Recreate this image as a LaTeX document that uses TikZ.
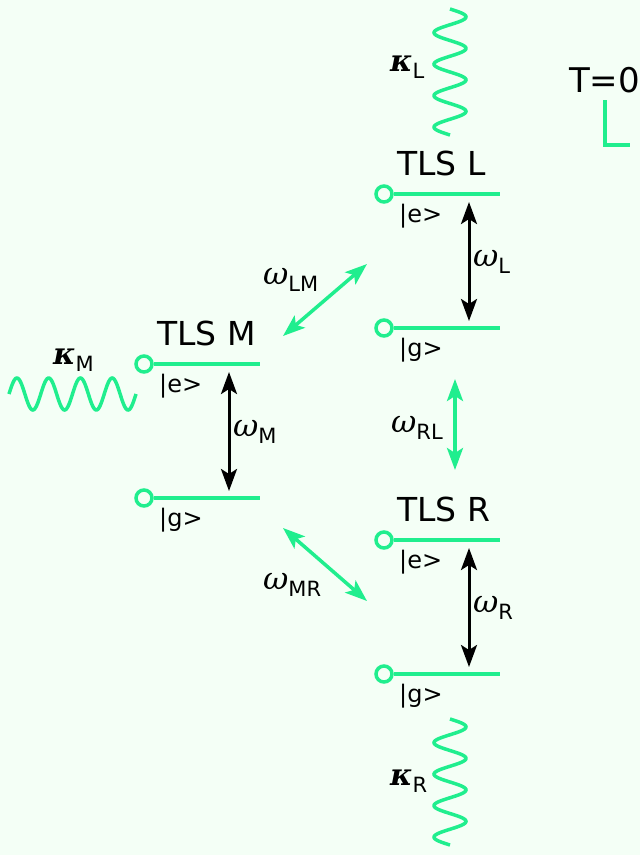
\documentclass[tikz,border=0pt]{standalone}
\usepackage{fontspec}
\setmainfont{DejaVu Sans}
\newfontfamily\grk{DejaVu Serif}
\usetikzlibrary{arrows.meta,positioning}
\definecolor{mint}{HTML}{F4FFF6}
\definecolor{spring}{HTML}{20EE8E}
\newcommand{\symlab}[3]{{\fontsize{#1}{#1}\selectfont\grk #2}\raisebox{-7pt}{\fontsize{21}{21}\selectfont #3}}
\tikzset{
  level/.style={draw=spring,line width=4pt},
  dot/.style={circle,draw=spring,line width=3.5pt,minimum size=16pt,inner sep=0pt,fill=mint},
  tls/.style={font=\fontsize{33}{33}\selectfont,inner sep=0pt,anchor=base west},
  ket/.style={font=\fontsize{24}{24}\selectfont,inner sep=0pt,anchor=base west},
  lbl/.style={inner sep=0pt,anchor=base west},
  tr/.style={{Stealth[length=22pt,width=16pt,inset=5pt]}-{Stealth[length=22pt,width=16pt,inset=5pt]},line width=3pt},
  cpl/.style={tr,draw=spring,line width=3.5pt},
  wave/.style={draw=spring,line width=3.5pt},
}
\begin{document}
\begin{tikzpicture}[x=1pt,y=-1pt]
\fill[mint] (0,0) rectangle (640,855);
\useasboundingbox (0,0) rectangle (640,855);
% the three two-level systems
\foreach \n/\x/\y in {L/384/194,M/144/364,R/384/540}{
  \node[dot] (\n e) at (\x,\y) {};
  \node[dot] (\n g) at (\x,\y+134) {};
  \draw[level] (\n e.east) -- (\x+116,\y);
  \draw[level] (\n g.east) -- (\x+116,\y+134);
  \node[tls] (\n name) at (\x+13,\y-19) {TLS \n};
  \node[ket] (\n ket e) at (\x+15,\y+28) {|e>};
  \node[ket] (\n ket g) at (\x+15,\y+162) {|g>};
  \coordinate (\n up) at (\x+85,\y+8);
  \coordinate (\n dn) at (\x+85,\y+127);
  \draw[tr] (\n up) -- (\n dn);
  \node[lbl] (\n w) at (\x+89,\y+72) {\symlab{31}{\itshape ω}{\n}};
}
% couplings
\coordinate (lm1) at (283,336); \coordinate (lm2) at (367,264);
\coordinate (mr1) at (283,528); \coordinate (mr2) at (367,601);
\coordinate (rl1) at (455,379); \coordinate (rl2) at (455,470);
\draw[cpl] (lm1) -- (lm2);\draw[cpl] (mr1) -- (mr2);\draw[cpl] (rl1) -- (rl2);
\node[lbl] (wlm) at (263,284) {\symlab{31}{\itshape ω}{LM}};
\node[lbl] (wmr) at (263,589) {\symlab{31}{\itshape ω}{MR}};
\node[lbl] (wrl) at (391,432) {\symlab{31}{\itshape ω}{RL}};
% losses
\draw[wave] plot[variable=\t,domain=9:135,samples=150,smooth] ({450+16*sin(11.4286*(\t-9))},\t);
\draw[wave] plot[variable=\t,domain=719:845,samples=150,smooth] ({450+16*sin(11.4286*(\t-719))},\t);
\draw[wave] plot[variable=\t,domain=9:136,samples=150,smooth] (\t,{394-16*sin(11.339*(\t-9))});
\node[lbl] (kl) at (390,71) {\symlab{30}{\bfseries\itshape κ}{L}};
\node[lbl] (km) at (53,364) {\symlab{30}{\bfseries\itshape κ}{M}};
\node[lbl] (kr) at (390,785) {\symlab{30}{\bfseries\itshape κ}{R}};
% temperature
\node[lbl,font=\fontsize{34}{34}\selectfont] (temp) at (569,92) {T=0};
\coordinate (tl) at (605,100); \coordinate (tr) at (630,145);
\draw[level] (tl) |- (tr);
\end{tikzpicture}
\end{document}
